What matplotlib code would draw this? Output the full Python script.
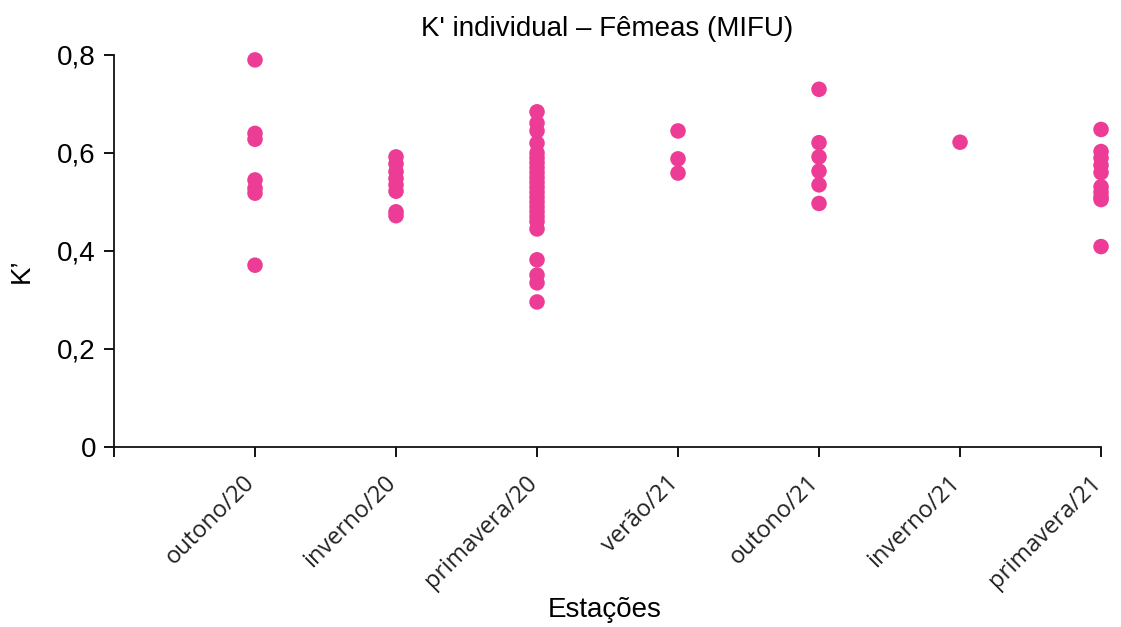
import matplotlib
matplotlib.use("Agg")
import matplotlib.pyplot as plt
from matplotlib.transforms import ScaledTranslation

# Seasons and individual K' values for females (MIFU)
seasons = ["outono/20", "inverno/20", "primavera/20", "verão/21",
           "outono/21", "inverno/21", "primavera/21"]

k_outono20 = [0.790, 0.640, 0.628, 0.545, 0.528, 0.518, 0.371]
k_inverno20 = [0.592, 0.578, 0.562, 0.548, 0.535, 0.522, 0.480, 0.472]
k_primavera20 = [0.684, 0.661, 0.645, 0.620, 0.600, 0.590, 0.580, 0.570,
                 0.560, 0.550, 0.540, 0.530, 0.520, 0.510, 0.500, 0.490,
                 0.480, 0.470, 0.460, 0.445, 0.382, 0.351, 0.335, 0.296]
k_verao21 = [0.645, 0.588, 0.559]
k_outono21 = [0.730, 0.621, 0.592, 0.563, 0.535, 0.497]
k_inverno21 = [0.622]
k_primavera21 = [0.648, 0.603, 0.590, 0.575, 0.560, 0.531, 0.520, 0.510,
                 0.505, 0.409]

series = [k_outono20, k_inverno20, k_primavera20, k_verao21,
          k_outono21, k_inverno21, k_primavera21]

PINK = "#EC3C96"
SANS = ["Liberation Sans", "DejaVu Sans"]
TICKFONT = ["Open Sans", "DejaVu Sans"]

fig = plt.figure(figsize=(11.21, 6.27), dpi=100)
ax = fig.add_axes([0.1017, 0.2871, 0.8805, 0.6252])

positions = list(range(1, len(seasons) + 1))
for pos, vals in zip(positions, series):
    ax.scatter([pos] * len(vals), vals, s=125, color=PINK, edgecolors="none",
               zorder=3, clip_on=False)

ax.set_xlim(0, 7)
ax.set_ylim(0, 0.8)

ax.set_xticks(range(0, 8))
ax.set_xticklabels([])
# rotated season labels, ends tucked just under each tick
label_tf = ax.get_xaxis_transform() + ScaledTranslation(
    -12 / 100, -24 / 100, fig.dpi_scale_trans)
for pos, name in zip(positions, seasons):
    ax.text(pos, 0, name, transform=label_tf, rotation=45, ha="right",
            va="top", rotation_mode="anchor", family=TICKFONT, fontsize=17,
            color="#222222")

ax.set_yticks([0, 0.2, 0.4, 0.6, 0.8])
ax.set_yticklabels(["0", "0,2", "0,4", "0,6", "0,8"], family=SANS,
                   fontsize=20)

ax.tick_params(axis="x", direction="out", length=7, width=1.3)
ax.tick_params(axis="y", direction="out", length=7, width=1.3, pad=6)

for side in ("top", "right"):
    ax.spines[side].set_visible(False)
for side in ("left", "bottom"):
    ax.spines[side].set_linewidth(1.3)
    ax.spines[side].set_color("#111111")

ax.set_title("K' individual – Fêmeas (MIFU)", family=SANS, fontsize=20,
             pad=14)
ax.set_xlabel("Estações", family=SANS, fontsize=20, va="center")
ax.xaxis.set_label_coords(0.497, -0.416)
ax.set_ylabel("K’", family=SANS, fontsize=20)
ax.yaxis.set_label_coords(-0.08, 0.45)

fig.savefig("out.png", dpi=100, facecolor="white")
